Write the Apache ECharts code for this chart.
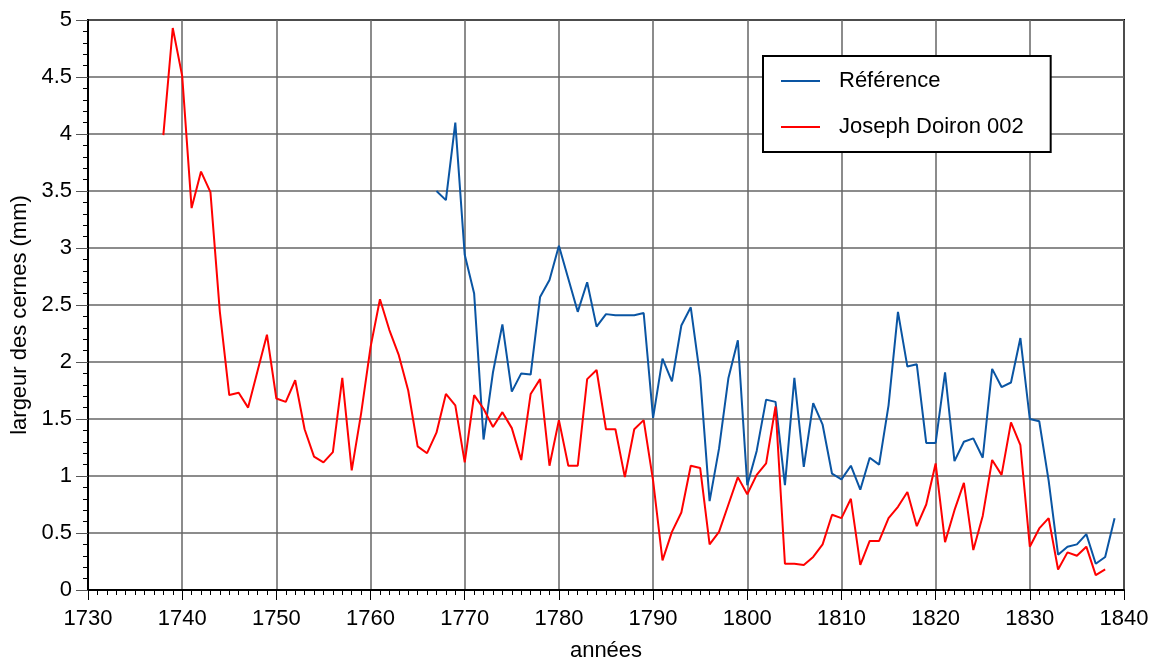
<!DOCTYPE html>
<html>
<head>
<meta charset="utf-8">
<script src="https://cdn.jsdelivr.net/npm/echarts@6/dist/echarts.min.js"></script>
<style>
  html, body { margin: 0; padding: 0; background: #fff; }
  #chart { width: 1154px; height: 661px; }
</style>
</head>
<body>
<div id="chart"></div>
<script>
// séries (largeur des cernes, mm)
const refStart = 1767;
const refValues = [
  3.50, 3.42, 4.10, 2.94, 2.60, 1.32, 1.91, 2.33, 1.74, 1.90,
  1.89, 2.57, 2.72, 3.02, 2.73, 2.44, 2.70, 2.31, 2.42, 2.41,
  2.41, 2.41, 2.43, 1.51, 2.03, 1.83, 2.32, 2.48, 1.87, 0.78,
  1.24, 1.86, 2.19, 0.92, 1.22, 1.67, 1.65, 0.92, 1.86, 1.08,
  1.64, 1.45, 1.02, 0.97, 1.09, 0.88, 1.16, 1.10, 1.62, 2.44,
  1.96, 1.98, 1.29, 1.29, 1.91, 1.13, 1.30, 1.33, 1.16, 1.94,
  1.78, 1.82, 2.21, 1.50, 1.48, 0.96, 0.31, 0.38, 0.40, 0.49,
  0.23, 0.29, 0.63
];

const doironStart = 1738;
const doironValues = [
  3.99, 4.93, 4.51, 3.35, 3.67, 3.49, 2.44, 1.71, 1.73, 1.60,
  1.92, 2.24, 1.68, 1.65, 1.84, 1.41, 1.17, 1.12, 1.21, 1.86,
  1.05, 1.55, 2.13, 2.55, 2.28, 2.06, 1.75, 1.26, 1.20, 1.38,
  1.72, 1.62, 1.12, 1.71, 1.59, 1.43, 1.56, 1.42, 1.14, 1.72,
  1.85, 1.09, 1.49, 1.09, 1.09, 1.85, 1.93, 1.41, 1.41, 0.99,
  1.41, 1.49, 0.96, 0.26, 0.51, 0.68, 1.09, 1.07, 0.40, 0.51,
  0.75, 0.99, 0.84, 1.01, 1.11, 1.61, 0.23, 0.23, 0.22, 0.29,
  0.40, 0.66, 0.63, 0.80, 0.22, 0.43, 0.43, 0.63, 0.73, 0.86,
  0.56, 0.75, 1.11, 0.42, 0.70, 0.94, 0.35, 0.65, 1.14, 1.01,
  1.47, 1.27, 0.38, 0.54, 0.63, 0.18, 0.33, 0.30, 0.38, 0.13,
  0.18
];

const seriesNames = ['Référence', 'Joseph Doiron 002'];

const toPairs = (start, values) => values.map((v, i) => [start + i, v]);

const chart = echarts.init(document.getElementById('chart'));
const font = 'Liberation Sans, Arial, sans-serif';
const fs = 22;

const option = {
  animation: false,
  textStyle: { fontFamily: font, color: '#000' },
  grid: {
    left: 88,
    right: 30,
    top: 20,
    bottom: 71,
    containLabel: false,
    outerBoundsMode: 'none',
    show: true,
    borderColor: '#000',
    borderWidth: 2,
  },
  legend: {
    orient: 'vertical',
    left: 763,
    top: 56,
    padding: [14, 27, 14, 18],
    itemGap: 24,
    itemWidth: 39,
    itemHeight: 2,
    icon: 'rect',
    backgroundColor: '#fff',
    borderColor: '#000',
    borderWidth: 2,
    borderRadius: 0,
    textStyle: { fontSize: fs, color: '#000', fontFamily: font, padding: [0, 0, 0, 14] },
    data: seriesNames,
  },
  xAxis: {
    type: 'value',
    min: 1730,
    max: 1840,
    interval: 10,
    name: 'années',
    nameLocation: 'middle',
    nameGap: 50,
    nameTextStyle: { fontSize: fs, color: '#000', fontFamily: font },
    axisLine: { lineStyle: { color: '#000', width: 2 } },
    axisTick: { show: true, length: 10, lineStyle: { color: '#000', width: 1 } },
    minorTick: { show: true, splitNumber: 10, length: 5, lineStyle: { color: '#000', width: 1 } },
    axisLabel: {
      fontSize: fs,
      color: '#000',
      fontFamily: font,
      margin: 18,
      formatter: v => String(v),
    },
    splitLine: { show: true, lineStyle: { color: '#666', width: 1.5 } },
  },
  yAxis: {
    type: 'value',
    min: 0,
    max: 5,
    interval: 0.5,
    name: 'largeur des cernes (mm)',
    nameLocation: 'middle',
    nameGap: 56,
    nameTextStyle: { fontSize: fs, color: '#000', fontFamily: font, padding: [0, 20, 0, 0] },
    axisLine: { show: true, lineStyle: { color: '#000', width: 2 } },
    axisTick: { show: true, length: 12, lineStyle: { color: '#555', width: 1 } },
    minorTick: { show: true, splitNumber: 5, length: 5, lineStyle: { color: '#000', width: 1 } },
    axisLabel: {
      fontSize: fs,
      color: '#000',
      fontFamily: font,
      margin: 16,
    },
    splitLine: { show: true, lineStyle: { color: '#666', width: 1.5 } },
  },
  series: [
    {
      name: seriesNames[0],
      type: 'line',
      data: toPairs(refStart, refValues),
      symbol: 'none',
      lineStyle: { color: '#0a55a3', width: 2 },
      itemStyle: { color: '#0a55a3' },
      z: 3,
    },
    {
      name: seriesNames[1],
      type: 'line',
      data: toPairs(doironStart, doironValues),
      symbol: 'none',
      lineStyle: { color: '#ff0000', width: 2 },
      itemStyle: { color: '#ff0000' },
      z: 4,
    },
  ],
};

chart.setOption(option);
</script>
</body>
</html>
